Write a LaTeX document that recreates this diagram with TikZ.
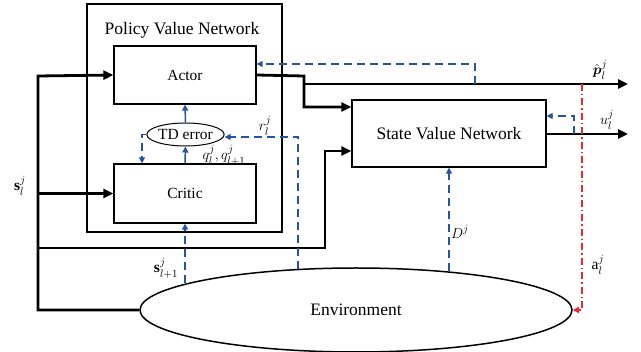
\documentclass[tikz,border=0pt]{standalone}
\usepackage{amsmath,amssymb}
\usepackage{fontspec}
\setmainfont{Liberation Serif}
\usepackage{xcolor}
\usetikzlibrary{arrows.meta,shapes.geometric,calc,positioning}
\definecolor{fbblue}{RGB}{38,84,160}
\definecolor{actred}{RGB}{238,40,45}

\begin{document}
\begin{tikzpicture}[x=1pt, y=-1pt]
		\tikzstyle{every node}=[font=\fontsize{15.5}{17}\selectfont]
		\tikzstyle{blk}=[draw, line width=1.3pt, inner sep=0pt]
		\tikzstyle{mainline}=[line width=2.8pt, -{Triangle[length=10pt,width=9pt]}]
		\tikzstyle{fbline}=[fbblue, line width=1.5pt, dash pattern=on 8pt off 5pt, -{Triangle[length=6pt,width=6pt]}]
		\useasboundingbox (0,0) rectangle (641,352);
		% blocks
		\node [blk, minimum width=195pt, minimum height=228pt] (pvn) at (184.5,118) {};
		\node [font=\fontsize{17.5}{19}\selectfont] (pvntitle) at (182,30) {Policy Value Network};
		\node [blk, minimum width=142pt, minimum height=58pt] (actor) at (185,75) {Actor};
		\node [blk, minimum width=142pt, minimum height=59pt] (critic) at (185,193.5) {Critic};
		\node [blk, ellipse, line width=1pt, minimum width=63pt, minimum height=23pt] (td) at (185.5,134.5) {TD error};
		\node [blk, minimum width=194pt, minimum height=67pt, font=\fontsize{17.5}{19}\selectfont] (svn) at (449,133.5) {State Value Network};
		\node [blk, ellipse, line width=1.5pt, minimum width=432pt, minimum height=84pt, font=\fontsize{17.5}{19}\selectfont] (env) at (356,310) {Environment};
		% bend points
		\coordinate (bus) at (38,76);
		\coordinate (bus2) at (38,248);
		\coordinate (bus2r) at (325,248);
		\coordinate (svnin2) at (svn.west |- 0,151);
		\coordinate (act1) at (304,76);
		\coordinate (svnin1) at (svn.west |- 0,107);
		\coordinate (split) at (304,84);
		\coordinate (pout) at (628,84);
		\coordinate (uout) at (628,134);
		\coordinate (pfb) at (475,84);
		\coordinate (ufb) at (574,134);
		\coordinate (atop) at (582,84);
		\coordinate (envD) at (449,271);
		\coordinate (envS) at (185,283);
		\coordinate (envR) at (298,269.5);
		\coordinate (tdl) at (142,134.5);
		% thick black connectors
		\draw [mainline] (env.west) -| (bus) -- (actor.west);
		\draw [mainline] (bus |- critic.west) -- (critic.west);
		\draw [mainline] (bus2) -- (bus2r) |- (svnin2);
		\draw [mainline] (actor.east) -- (act1) |- (svnin1);
		\draw [mainline] (split) -- (pout);
		\draw [mainline] (svn.east |- uout) -- (uout);
		% blue feedback
		\draw [fbblue, line width=1.5pt, -{Triangle[length=6pt,width=6pt]}] (critic.north) -- (td.south);
		\draw [fbblue, line width=1.5pt, -{Triangle[length=6pt,width=6pt]}] (td.north) -- (actor.south);
		\draw [fbline] (td.west) -- (tdl) -- (tdl |- critic.north);
		\draw [fbline] (envR) |- (td.east |- 0,137);
		\draw [fbline] (envS) -- (critic.south);
		\draw [fbline] (envD) -- (envD |- svn.south);
		\draw [fbline] (pfb) |- (actor.east |- 0,64);
		\draw [fbline] (ufb) |- (svn.east |- 0,116);
		% action
		\draw [actred, line width=1.5pt, dash pattern=on 7pt off 3pt on 1.5pt off 3pt, -{Triangle[length=6pt,width=6pt]}] (atop) |- (env.east);
		% labels
		\node (lp) at (600,70) {$\hat{\boldsymbol{p}}_l^j$};
		\node (lu) at (607,120) {$u_l^j$};
		\node (la) at (598,265) {$\mathrm{a}_l^j$};
		\node (lD) at (460,232) {$D^j$};
		\node (lr) at (265,126) {$r_l^j$};
		\node (lq) at (224,155) {$q_l^j,q_{l+1}^j$};
		\node (ls) at (20,186) {$\mathbf{s}_l^j$};
		\node (ls1) at (166,268) {$\mathbf{s}_{l+1}^j$};
\end{tikzpicture}
\end{document}
